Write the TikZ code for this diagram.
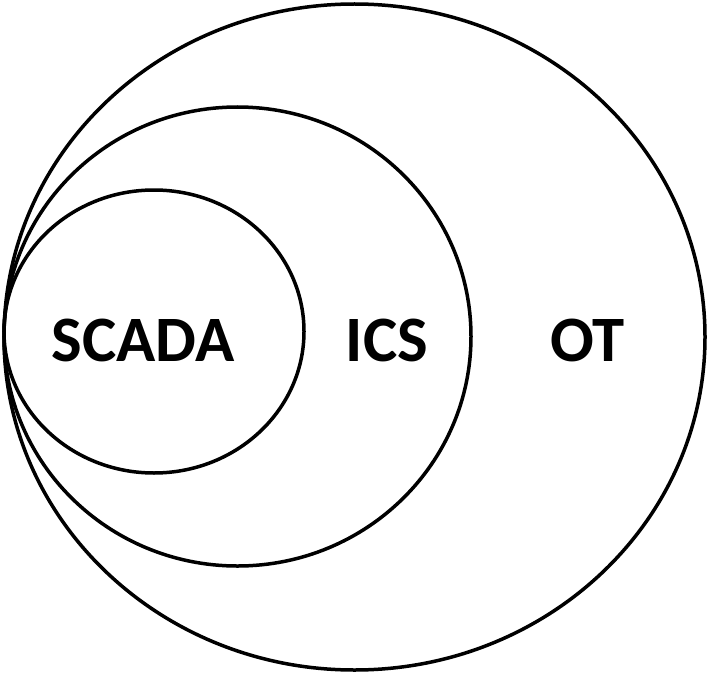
\documentclass[tikz,border=0pt]{standalone}
\usepackage{fontspec}
\setmainfont{Carlito}
\begin{document}
\begin{tikzpicture}[x=1bp,y=-1bp,
  ring/.style={draw=black,line width=3.5bp},
  lbl/.style={font=\fontsize{65}{70}\selectfont\bfseries,inner sep=0pt,anchor=base}]
\useasboundingbox (0,0) rectangle (709,676);
\fill[white] (0,0) rectangle (709,676);
\draw[ring] (354.5,337) ellipse [x radius=350.5,y radius=333];
\draw[ring] (237.5,336.5) ellipse [x radius=233.5,y radius=229.5];
\draw[ring] (154,331.5) ellipse [x radius=150,y radius=141.5];
\node[lbl] (scada) at (143,361) {SCADA};
\node[lbl] (ics) at (387,361) {ICS};
\node[lbl] (ot) at (587.5,361) {OT};
\end{tikzpicture}
\end{document}
